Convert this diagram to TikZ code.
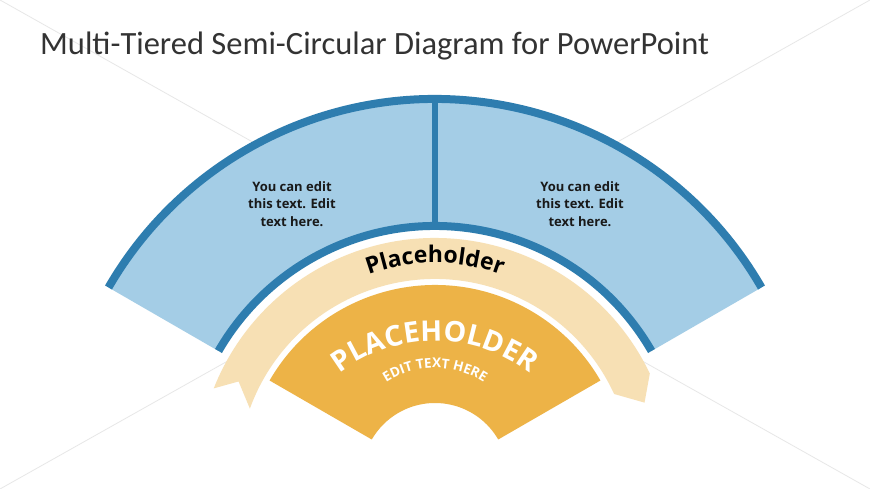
\documentclass[tikz,border=0pt]{standalone}
\usepackage{fontspec}
\setmainfont{Open Sans}
\newfontfamily\titlefont{Carlito}
\newfontfamily\boldsans{Open Sans}[UprightFont=* Bold]
\usetikzlibrary{calc,decorations.text}
\definecolor{lblue}{HTML}{A4CDE6}
\definecolor{dblue}{HTML}{2E7DAF}
\definecolor{beige}{HTML}{F7E0B4}
\definecolor{gold}{HTML}{EDB347}
\definecolor{titlegray}{HTML}{333333}
\definecolor{faint}{HTML}{D8D8D8}
\tikzset{
  bandborder/.style={draw=dblue,line width=8},
  bluetext/.style={align=center,font=\boldsans\fontsize{13}{17.5}\selectfont,text=black!90},
  bgline/.style={draw=faint,line width=0.8,opacity=0.6}
}
\begin{document}
\begin{tikzpicture}[x=1pt,y=1pt]
\useasboundingbox (0,0) rectangle (870,489);
\fill[white] (0,0) rectangle (870,489);
\coordinate (C) at (435,13);
\coordinate (M) at (435,244.5);
% centres of the curved text lines
\coordinate (Cp) at (435,36);
\coordinate (CP) at (435,-8);
\coordinate (Ce) at (435,31);
% faint background lines
\coordinate (TL) at (0,489);
\coordinate (TR) at (870,489);
\coordinate (BL) at (0,0);
\coordinate (BR) at (870,0);
\draw[bgline] (TL) -- ($(TL)!0.8!(M)$);
\draw[bgline] (TR) -- ($(TR)!0.8!(M)$);
\draw[bgline] (BL) -- ($(BL)!0.8!(M)$);
\draw[bgline] (BR) -- ($(BR)!0.8!(M)$);
% title
\node[anchor=base west,inner sep=0,font=\titlefont\fontsize{32.5}{32.5}\selectfont,text=titlegray] (title) at (40,434) {Multi-Tiered Semi-Circular Diagram for PowerPoint};
% blue band
\fill[lblue] ($(C)+(30:250)$) arc[start angle=30,end angle=150,radius=250]
  -- ($(C)+(150:377)$) arc[start angle=150,end angle=30,radius=377] -- cycle;
\draw[bandborder] ($(C)+(30:377)$) arc[start angle=30,end angle=150,radius=377];
\draw[bandborder] ($(C)+(30:250)$) arc[start angle=30,end angle=150,radius=250];
\draw[dblue,line width=6] ($(C)+(90:250)$) -- ($(C)+(90:377)$);
% ribbon
\fill[beige] ($(C)+(25.5:238)$) arc[start angle=25.5,end angle=158.4,radius=238]
  -- ($(C)+(154.3:218)$) -- ($(C)+(160:197)$)
  arc[start angle=160,end angle=24.6,radius=197]
  -- ($(C)+(19.3:222)$) -- cycle;
% orange sector
\fill[gold] ($(C)+(30:73)$) arc[start angle=30,end angle=150,radius=73]
  -- ($(C)+(150:191)$) arc[start angle=150,end angle=30,radius=191] -- cycle;
% texts
\node[bluetext] (t1) at (292,285) {You can edit\\this text. Edit\\text here.};
\node[bluetext] (t2) at (580,285) {You can edit\\this text. Edit\\text here.};
\path[decorate,decoration={text along path,text align=center,
  text={|\boldsans\fontsize{23}{23}\selectfont\color{black}|Placeholder}}]
  ($(Cp)+(150:190)$) arc[start angle=150,end angle=30,radius=190];
\path[decorate,decoration={text along path,text align=center,
  text={|\boldsans\fontsize{28.5}{28.5}\selectfont\color{white}|PLACEHOLDER}}]
  ($(CP)+(160:156)$) arc[start angle=160,end angle=20,radius=156];
\path[decorate,decoration={text along path,text align=center,
  text={|\boldsans\fontsize{13.5}{13.5}\selectfont\color{white}|EDIT TEXT HERE}}]
  ($(Ce)+(170:90)$) arc[start angle=170,end angle=10,radius=90];
\end{tikzpicture}
\end{document}
